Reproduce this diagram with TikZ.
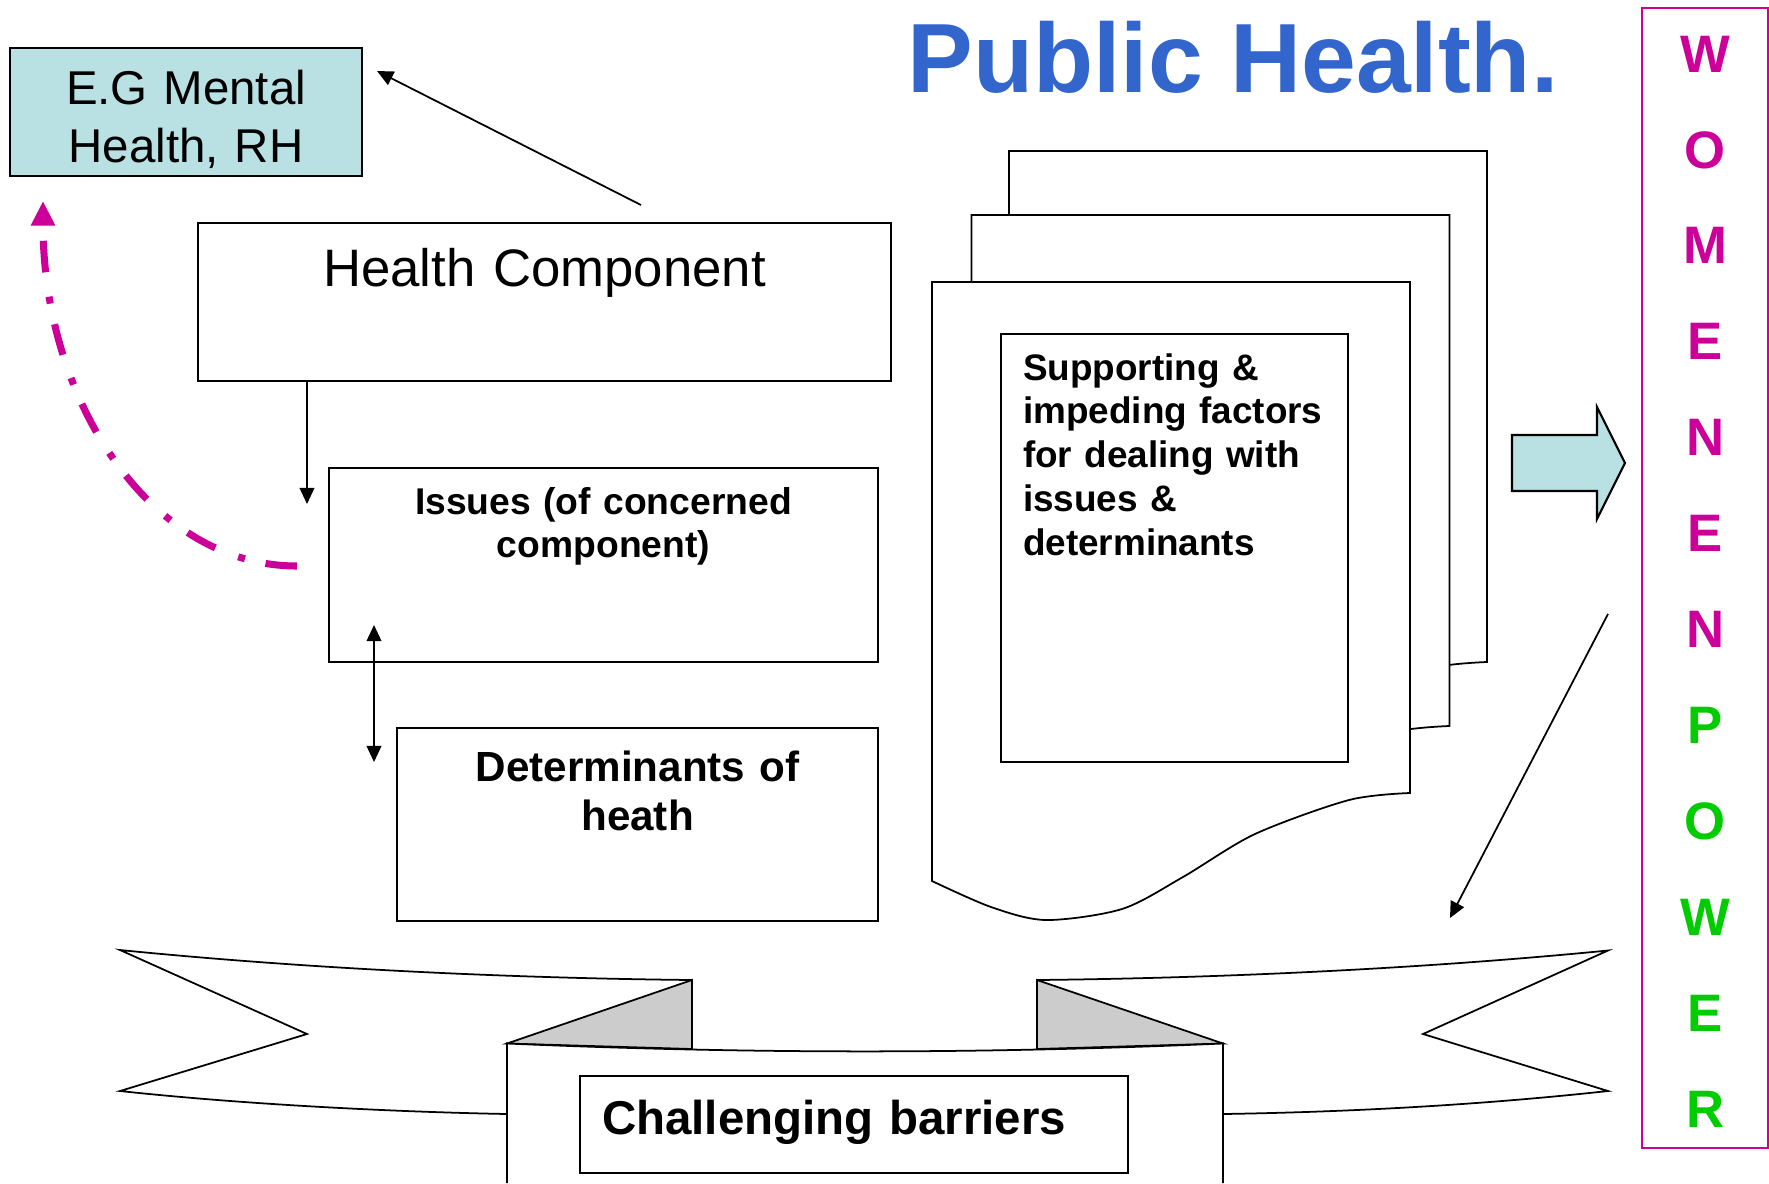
\documentclass[tikz,border=0pt]{standalone}
\usepackage{fontspec}
\setmainfont{Liberation Sans}
\usetikzlibrary{shapes,arrows,arrows.meta}
\definecolor{egfill}{RGB}{185,224,227}
\definecolor{titleblue}{RGB}{51,102,204}
\definecolor{wmag}{RGB}{204,0,153}
\definecolor{pgreen}{RGB}{0,204,0}
\definecolor{foldgray}{RGB}{204,204,204}
\tikzstyle{block} = [rectangle, draw, line width=0.6pt, inner sep=0pt,
    anchor=north west, align=center]
\tikzstyle{line} = [draw, line width=0.5pt, -{Triangle[length=4.6pt,width=4.2pt]}]
\tikzstyle{backlink} = [draw=wmag, line width=2pt,
    dash pattern=on 9pt off 6pt on 2pt off 7pt, -{Triangle[length=7pt,width=6.5pt]}]
\tikzstyle{sheet} = [draw, line width=0.5pt, fill=white]
\tikzstyle{ribbon} = [draw, line width=0.5pt, fill=white]

\begin{document}
\begin{tikzpicture}[x=1cm, y=-1cm]
	\useasboundingbox (0,0) rectangle (17.69,11.83);

		\node [anchor=base west, inner sep=0pt, text=titleblue, font=\fontsize{28}{33}\selectfont\bfseries] (title) at (9.07,0.92) {Public Health.};

		\node [block, fill=egfill, text width=3.52cm, text height=0.56cm, text depth=0.72cm, font=\fontsize{13.5}{16.5}\selectfont] (eg) at (0.09,0.47) {E.G Mental\\Health, RH};
		\node [block, text width=6.93cm, text height=0.63cm, text depth=0.95cm, font=\fontsize{15}{18}\selectfont] (hc) at (1.97,2.22) {Health Component};
		\node [block, text width=5.49cm, text height=0.46cm, text depth=1.48cm, font=\fontsize{10.6}{12.5}\selectfont\bfseries] (issues) at (3.28,4.67) {Issues (of concerned\\component)};
		\node [block, text width=4.81cm, text height=0.53cm, text depth=1.40cm, font=\fontsize{12}{14.2}\selectfont\bfseries] (det) at (3.96,7.27) {Determinants of\\heath};

		% stack of pages
		\draw [sheet, shift={(0.77,-1.31)}] (9.32,2.82) -- (14.10,2.82) -- plot[smooth] coordinates {(14.10,7.93) (13.49,8.00) (12.55,8.34) (11.83,8.77) (11.22,9.09) (10.46,9.20) (9.91,9.07) (9.32,8.81)} -- cycle;
		\draw [sheet, shift={(0.395,-0.67)}] (9.32,2.82) -- (14.10,2.82) -- plot[smooth] coordinates {(14.10,7.93) (13.49,8.00) (12.55,8.34) (11.83,8.77) (11.22,9.09) (10.46,9.20) (9.91,9.07) (9.32,8.81)} -- cycle;
		\draw [sheet] (9.32,2.82) -- (14.10,2.82) -- plot[smooth] coordinates {(14.10,7.93) (13.49,8.00) (12.55,8.34) (11.83,8.77) (11.22,9.09) (10.46,9.20) (9.91,9.07) (9.32,8.81)} -- cycle;

		\node [block, text width=3.03cm, inner xsep=0.22cm, text height=0.46cm, text depth=3.82cm, align=left, font=\fontsize{10.5}{12.5}\selectfont\bfseries] (factors) at (10.00,3.33) {Supporting \&\\impeding factors\\for dealing with\\issues \&\\determinants};

		\draw [line width=0.6pt, fill=egfill] (15.12,4.35) -- (15.97,4.35) -- (15.97,4.07) -- (16.25,4.63) -- (15.97,5.19) -- (15.97,4.91) -- (15.12,4.91) -- cycle;

		\node [block, draw=wmag, text=wmag, text width=1.26cm, text height=0.64cm, text depth=10.76cm, font=\fontsize{15}{27.3}\selectfont\bfseries] (empower) at (16.41,0.07) {W\\O\\M\\E\\N\\E\\N\\\textcolor{pgreen}{P}\\\textcolor{pgreen}{O}\\\textcolor{pgreen}{W}\\\textcolor{pgreen}{E}\\\textcolor{pgreen}{R}};

		% banner
		\draw [ribbon] (1.20,9.50) .. controls (3.0,9.68) and (5.0,9.78) .. (6.92,9.80) -- (6.92,10.49) -- (5.07,10.435) -- (5.07,11.14) .. controls (4.0,11.12) and (2.5,11.05) .. (1.20,10.91) -- (3.07,10.34) -- cycle;
		\draw [ribbon] (10.37,9.80) .. controls (12.3,9.78) and (14.3,9.68) .. (16.08,9.505) -- (14.23,10.34) -- (16.08,10.91) .. controls (14.8,11.05) and (13.5,11.12) .. (12.23,11.14) -- (12.23,10.435) -- (10.37,10.49) -- cycle;
		\draw [ribbon, fill=foldgray] (5.07,10.435) -- (6.92,9.80) -- (6.92,10.49) -- cycle;
		\draw [ribbon, fill=foldgray] (10.37,9.80) -- (10.37,10.49) -- (12.23,10.435) -- cycle;
		\path [ribbon] (5.07,11.83) -- (5.07,10.435) .. controls (7.5,10.54) and (9.8,10.54) .. (12.23,10.435) -- (12.23,11.83);

		\node [block, text width=5.04cm, inner xsep=0.22cm, text height=0.58cm, text depth=0.39cm, align=left, font=\fontsize{13.5}{16}\selectfont\bfseries] (barriers) at (5.79,10.75) {Challenging barriers};

		% connectors
		\coordinate (hcTop) at (6.41,2.05);
		\coordinate (egTip) at (3.77,0.71);
		\coordinate (issuesTip) at (3.07,5.04);
		\coordinate (issuesEnd) at (3.74,6.25);
		\coordinate (detEnd) at (3.74,7.62);
		\coordinate (loopStart) at (2.97,5.66);
		\coordinate (loopEnd) at (0.43,2.01);
		\coordinate (powerStart) at (16.08,6.14);
		\coordinate (barrierTip) at (14.50,9.18);

		\path [line] (hcTop) -- (egTip);
		\path [line] (hc.south -| issuesTip) -- (issuesTip);
		\path [line, {Triangle[length=4.6pt,width=4.2pt]}-{Triangle[length=4.6pt,width=4.2pt]}] (issuesEnd) -- (detEnd);
		\path [backlink] (loopStart) .. controls (1.5,5.66) and (0.43,4.0) .. (loopEnd);
		\path [line] (powerStart) -- (barrierTip);
	\end{tikzpicture}
\end{document}
